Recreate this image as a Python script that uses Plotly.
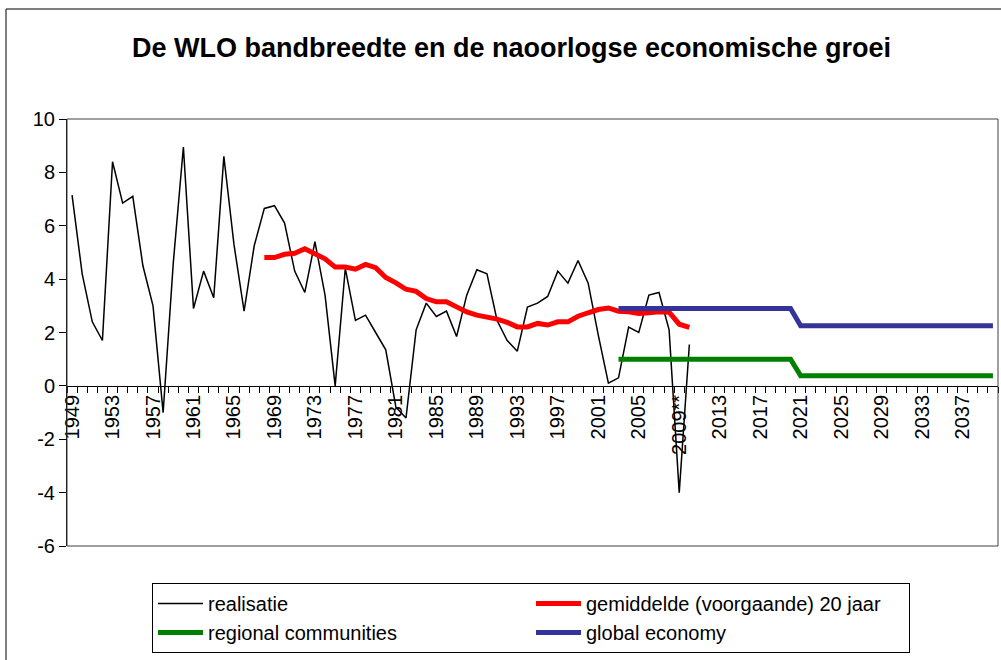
import plotly.graph_objects as go

# ---- data ----
real_years = list(range(1949, 2011))
realisatie = [7.15, 4.2, 2.4, 1.7, 8.4, 6.85, 7.1, 4.5, 3.0, -1.0,
              4.6, 8.95, 2.9, 4.3, 3.3, 8.6, 5.3, 2.8, 5.25, 6.65,
              6.75, 6.1, 4.3, 3.5, 5.4, 3.4, 0.0, 4.4, 2.45, 2.65,
              2.0, 1.35, -0.8, -1.2, 2.1, 3.1, 2.6, 2.8, 1.85, 3.4,
              4.35, 4.2, 2.45, 1.7, 1.3, 2.95, 3.1, 3.35, 4.3, 3.85,
              4.7, 3.85, 1.9, 0.1, 0.3, 2.2, 2.0, 3.4, 3.5, 2.1,
              -4.0, 1.55]

avg_years = list(range(1968, 2011))
gemiddelde = [4.81, 4.81, 4.93, 4.97, 5.14, 4.97, 4.76, 4.45, 4.45, 4.37,
              4.55, 4.43, 4.06, 3.86, 3.62, 3.54, 3.27, 3.15, 3.15, 2.96,
              2.77, 2.65, 2.59, 2.50, 2.38, 2.21, 2.21, 2.34, 2.28, 2.40,
              2.40, 2.61, 2.74, 2.86, 2.92, 2.80, 2.78, 2.71, 2.74, 2.78,
              2.76, 2.31, 2.19]

scen_years = list(range(2003, 2041))
regional = [1.0, 1.0, 1.0, 1.0, 1.0, 1.0, 1.0, 1.0, 1.0, 1.0,
            1.0, 1.0, 1.0, 1.0, 1.0, 1.0, 1.0, 1.0, 0.375, 0.375,
            0.375, 0.375, 0.375, 0.375, 0.375, 0.375, 0.375, 0.375, 0.375, 0.375,
            0.375, 0.375, 0.375, 0.375, 0.375, 0.375, 0.375, 0.375]
global_econ = [2.9, 2.9, 2.9, 2.9, 2.9, 2.9, 2.9, 2.9, 2.9, 2.9,
               2.9, 2.9, 2.9, 2.9, 2.9, 2.9, 2.9, 2.9, 2.25, 2.25,
               2.25, 2.25, 2.25, 2.25, 2.25, 2.25, 2.25, 2.25, 2.25, 2.25,
               2.25, 2.25, 2.25, 2.25, 2.25, 2.25, 2.25, 2.25]

tick_years = [1949, 1953, 1957, 1961, 1965, 1969, 1973, 1977, 1981, 1985,
              1989, 1993, 1997, 2001, 2005, 2009, 2013, 2017, 2021, 2025,
              2029, 2033, 2037]
tick_labels = ["1949", "1953", "1957", "1961", "1965", "1969", "1973", "1977",
               "1981", "1985", "1989", "1993", "1997", "2001", "2005", "2009**",
               "2013", "2017", "2021", "2025", "2029", "2033", "2037"]

y_ticks = [-6, -4, -2, 0, 2, 4, 6, 8, 10]
y_labels = ["-6", "-4", "-2", "0", "2", "4", "6", "8", "10"]

FONT = "Liberation Sans, Arial, sans-serif"

fig = go.Figure()
fig.add_trace(go.Scatter(x=real_years, y=realisatie, mode="lines",
                         name="realisatie", line=dict(color="black", width=1.5)))
fig.add_trace(go.Scatter(x=avg_years, y=gemiddelde, mode="lines",
                         name="gemiddelde (voorgaande) 20 jaar",
                         line=dict(color="#FF0000", width=5)))
fig.add_trace(go.Scatter(x=scen_years, y=regional, mode="lines",
                         name="regional communities",
                         line=dict(color="#008000", width=5)))
fig.add_trace(go.Scatter(x=scen_years, y=global_econ, mode="lines",
                         name="global economy",
                         line=dict(color="#333399", width=5)))

fig.update_layout(
    width=1001, height=660,
    margin=dict(l=67, r=3, t=119, b=114, autoexpand=False),
    paper_bgcolor="white", plot_bgcolor="white",
    font=dict(family=FONT, size=20, color="black"),
    title=dict(text="<b>De WLO bandbreedte en de naoorlogse economische groei</b>",
               xref="container", x=0.511, xanchor="center",
               yref="container", y=1 - 48 / 660, yanchor="middle",
               font=dict(family=FONT, size=27, color="black")),
    showlegend=True,
    legend=dict(orientation="h", xref="container", yref="container",
                x=152 / 1001, xanchor="left",
                y=1 - 583 / 660, yanchor="top",
                entrywidth=318, entrywidthmode="pixels",
                bordercolor="black", borderwidth=1, bgcolor="white",
                font=dict(family=FONT, size=20, color="black"),
                itemwidth=45, tracegroupgap=0),
    xaxis=dict(type="linear", range=[1948.5, 2040.5], automargin=False,
               tickmode="array", tickvals=tick_years, ticktext=tick_labels,
               tickangle=-90, ticks="", showgrid=False, zeroline=False,
               showline=True, linecolor="black", linewidth=1,
               anchor="free", position=6 / 16,
               tickfont=dict(family=FONT, size=20, color="black"),
               minor=dict(ticks="outside", tick0=1948.5, dtick=1,
                          ticklen=6, tickcolor="black", showgrid=False)),
    yaxis=dict(range=[-6, 10], tickmode="array", tickvals=y_ticks,
               ticktext=y_labels, automargin=False,
               ticks="outside", ticklen=7,
               tickcolor="black", showgrid=False, zeroline=False,
               showline=True, linecolor="black", linewidth=1,
               tickfont=dict(family=FONT, size=20, color="black"),
               domain=[0, 1]),
    shapes=[
        dict(type="rect", xref="paper", yref="paper", x0=0, x1=1, y0=0, y1=1,
             line=dict(color="#404040", width=1), layer="above"),
        dict(type="rect", xref="paper", yref="paper",
             x0=(6 - 67) / 931, x1=1.2, y0=-0.5, y1=(546 - 9) / 427,
             line=dict(color="black", width=1), layer="above"),
    ],
)

fig.write_html("out.html",
               config={"displayModeBar": False},
               post_script="document.body.style.margin='0';document.body.style.overflow='hidden';")
